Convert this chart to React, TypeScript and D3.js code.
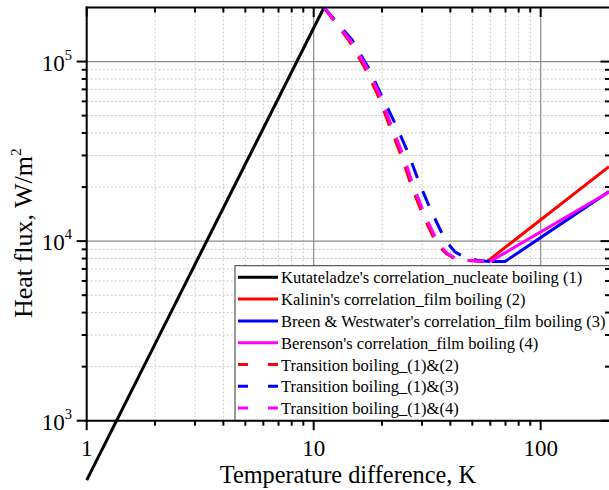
import React, { useEffect } from "react";
import * as d3 from "d3";

const W = 609;
const H = 490;
// plot frame (px)
const X0 = 86.7;
const X1 = 609;
const Y0 = 7.5;
const Y1 = 420.7;

// [temperature difference K, heat flux W/m2]
const nucleate = [[1, 467], [11.1, 200000]];
const kalininFilm = [[58, 7690], [200, 26000]];
const breenFilm = [[61, 7690], [69.6, 7690], [200, 18870]];
const berensonFilm = [[59.8, 7690], [200, 18790]];
const transition12 = [
  [11.1, 200000], [14.3, 130900], [16.8, 92300], [19.3, 63800], [21.7, 43100],
  [24.4, 29570], [27.0, 20120], [30.4, 13810], [34.8, 9650], [38.3, 8540],
  [42.7, 7860], [58, 7690],
];
const transition13 = [
  [11.1, 200000], [14.75, 132100], [17.43, 92250], [20.0, 63830], [23.2, 43440],
  [26.1, 30880], [29.2, 21020], [32.9, 14790], [37.9, 10160], [41.9, 8710],
  [46.9, 8060], [52.9, 7810], [61, 7690],
];
const transition14 = [
  [11.1, 200000], [14.53, 130900], [17.17, 92300], [19.7, 63800], [22.13, 43100],
  [24.92, 29570], [27.57, 20120], [31.01, 13810], [35.46, 9650], [38.86, 8540],
  [43.2, 7860], [59.8, 7690],
];

const series = [
  { label: "Kutateladze's correlation_nucleate boiling (1)", data: nucleate, color: "#000000", dashed: false },
  { label: "Kalinin's correlation_film boiling (2)", data: kalininFilm, color: "#ff0000", dashed: false },
  { label: "Breen & Westwater's correlation_film boiling (3)", data: breenFilm, color: "#0000ff", dashed: false },
  { label: "Berenson's correlation_film boiling (4)", data: berensonFilm, color: "#ff00ff", dashed: false },
  { label: "Transition boiling_(1)&(2)", data: transition12, color: "#ff0000", dashed: true },
  { label: "Transition boiling_(1)&(3)", data: transition13, color: "#0000ff", dashed: true },
  { label: "Transition boiling_(1)&(4)", data: transition14, color: "#ff00ff", dashed: true },
];

const xMajor = [1, 10, 100];
const xMinor = [2, 3, 4, 5, 6, 7, 8, 9, 20, 30, 40, 50, 60, 70, 80, 90];
const yMajor = [1000, 10000, 100000];
const yMajorExp = ["3", "4", "5"];
const yMinor = [2000, 3000, 4000, 5000, 6000, 7000, 8000, 9000, 20000, 30000, 40000, 50000, 60000, 70000, 80000, 90000];

const FONT = "'Liberation Serif', 'Times New Roman', serif";

export default function App() {
  useEffect(() => {
    document.body.style.margin = "0";
  }, []);

  const x = d3.scaleLog().domain([1, 200]).range([X0, X1]);
  const y = d3.scaleLog().domain([1000, 200000]).range([Y1, Y0]);
  const line = d3
    .line<number[]>()
    .x((d) => x(d[0]))
    .y((d) => y(d[1]));

  const legX = 235;
  const legY = 265.7;
  const rowH = 21.8;

  return (
    <svg width={W} height={H} style={{ display: "block", background: "#fff" }} fontFamily={FONT}>
      {/* grid */}
      <g>
        {xMinor.map((v) => (
          <line key={"gx" + v} x1={x(v)} x2={x(v)} y1={Y0} y2={Y1} stroke="#c8c8c8" strokeWidth={1} strokeDasharray="2 2" />
        ))}
        {yMinor.map((v) => (
          <line key={"gy" + v} x1={X0} x2={X1} y1={y(v)} y2={y(v)} stroke="#c8c8c8" strokeWidth={1} strokeDasharray="2 2" />
        ))}
        {xMajor.slice(1).map((v) => (
          <line key={"Gx" + v} x1={x(v)} x2={x(v)} y1={Y0} y2={Y1} stroke="#8a8a8a" strokeWidth={1.2} />
        ))}
        {yMajor.slice(1).map((v) => (
          <line key={"Gy" + v} x1={X0} x2={X1} y1={y(v)} y2={y(v)} stroke="#8a8a8a" strokeWidth={1.2} />
        ))}
      </g>

      {/* data */}
      <g fill="none" strokeWidth={3}>
        {series.map((s, i) => (
          <path
            key={i}
            d={line(s.data) || ""}
            stroke={s.color}
            strokeDasharray={s.dashed ? "16 14" : undefined}
            strokeLinejoin="round"
          />
        ))}
      </g>

      {/* legend */}
      <g>
        <rect x={legX} y={legY} width={W - legX + 5} height={Y1 - legY} fill="#fff" stroke="#333" strokeWidth={1} />
        {series.map((s, i) => {
          const cy = legY + 11.6 + i * rowH;
          return (
            <g key={i}>
              <line x1={legX + 3} x2={legX + 43} y1={cy} y2={cy} stroke={s.color} strokeWidth={3} strokeDasharray={s.dashed ? "10 20" : undefined} />
              <text x={legX + 46} y={cy + 6} fontSize={16.5} fill="#000">
                {s.label}
              </text>
            </g>
          );
        })}
      </g>

      {/* axes */}
      <g stroke="#000" strokeWidth={2}>
        <line x1={X0} x2={X0} y1={Y0 - 1} y2={Y1 + 1} />
        <line x1={X0 - 1} x2={W} y1={Y1} y2={Y1} />
        <line x1={X0 - 1} x2={W} y1={Y0} y2={Y0} />
        {xMajor.map((v) => (
          <g key={"tx" + v}>
            <line x1={x(v)} x2={x(v)} y1={Y1} y2={Y1 + 9.5} />
            <line x1={x(v)} x2={x(v)} y1={Y0} y2={Y0 + 9.5} />
          </g>
        ))}
        {xMinor.map((v) => (
          <g key={"tmx" + v}>
            <line x1={x(v)} x2={x(v)} y1={Y1} y2={Y1 + 5} />
            <line x1={x(v)} x2={x(v)} y1={Y0} y2={Y0 + 5} />
          </g>
        ))}
        {yMajor.map((v) => (
          <g key={"ty" + v}>
            <line x1={X0 - 10} x2={X0} y1={y(v)} y2={y(v)} />
            <line x1={X1 - 8.5} x2={W} y1={y(v)} y2={y(v)} />
          </g>
        ))}
        {yMinor.map((v) => (
          <g key={"tmy" + v}>
            <line x1={X0 - 5} x2={X0} y1={y(v)} y2={y(v)} />
            <line x1={X1 - 4} x2={W} y1={y(v)} y2={y(v)} />
          </g>
        ))}
      </g>

      {/* tick labels */}
      <g fontSize={23} fill="#000">
        {xMajor.map((v) => (
          <text key={"lx" + v} x={x(v)} y={456} textAnchor="middle">
            {v}
          </text>
        ))}
        {yMajor.map((v, i) => (
          <text key={"ly" + v} x={72} y={y(v) + 9} textAnchor="end">
            10
            <tspan fontSize={14.5} dy={-10.7}>
              {yMajorExp[i]}
            </tspan>
          </text>
        ))}
      </g>

      {/* axis titles */}
      <text x={(X0 + X1) / 2} y={483} textAnchor="middle" fontSize={24.3} fill="#000">
        Temperature difference, K
      </text>
      <text transform="translate(32,318) rotate(-90)" fontSize={26} fill="#000">
        Heat flux, W/m
        <tspan fontSize={15.5} dy={-11}>
          2
        </tspan>
      </text>
    </svg>
  );
}
